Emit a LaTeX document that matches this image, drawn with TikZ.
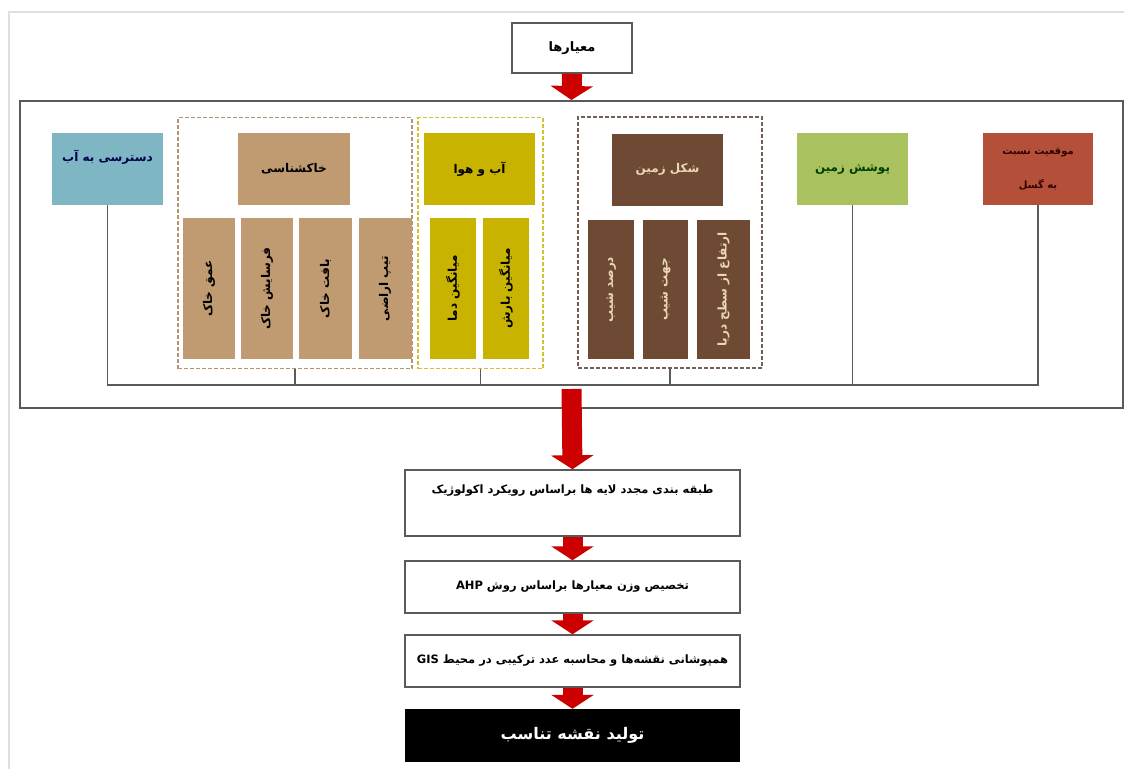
\documentclass[tikz,border=0pt]{standalone}
\usepackage{fontspec}
\usetikzlibrary{arrows.meta}
\TeXXeTstate=1
\newfontfamily\farsi[Script=Arabic]{DejaVu Sans}
\definecolor{framegray}{RGB}{90,90,90}
\definecolor{waterblue}{RGB}{127,182,196}
\definecolor{soiltan}{RGB}{192,154,112}
\definecolor{climyellow}{RGB}{200,180,0}
\definecolor{landbrown}{RGB}{110,74,53}
\definecolor{coverGreen}{RGB}{169,193,95}
\definecolor{faultred}{RGB}{180,80,58}
\definecolor{arrowred}{RGB}{204,0,0}
\definecolor{landtext}{RGB}{235,215,180}
\begin{document}
\begin{tikzpicture}[x=1pt, y=-1pt,
    every node/.style={font=\farsi\bfseries\fontsize{12}{14}\selectfont, inner sep=1pt, align=center},
    head/.style={minimum width=111pt, minimum height=72pt, anchor=center},
    leaf/.style={minimum width=141pt, minimum height=46pt, rotate=90},
    grp/.style={line width=1.2pt, dash pattern=on 4pt off 2pt},
    stepbox/.style={draw=framegray, line width=1.5pt, fill=white, minimum width=335pt, font=\farsi\bfseries\fontsize{11.5}{14}\selectfont},
    fat/.style={draw=arrowred, line width=20pt, -{Triangle[length=14pt, width=42pt]}}]
    \useasboundingbox (0,0) rectangle (1124,769);
    \draw[gray!25, line width=2pt] (9,769) -- (9,12) -- (1124,12);
    % outer frame and top box
    \node[draw=framegray, line width=2pt, minimum width=1103pt, minimum height=307pt] (frame) at (571.5,254.5) {};
    \node[draw=framegray, line width=1.5pt, fill=white, minimum width=120pt, minimum height=50pt, font=\farsi\bfseries\fontsize{13}{15}\selectfont] (crit) at (572,48) {\beginR معیارها\endR};
    % groups
    \node[grp, draw=soiltan!80!gray, minimum width=234pt, minimum height=251pt] (soilgrp) at (295,243) {};
    \node[grp, draw=climyellow!80, minimum width=125pt, minimum height=251pt] (climgrp) at (480.5,243) {};
    \node[grp, draw=landbrown!60!gray, line width=1.8pt, minimum width=184pt, minimum height=251pt] (landgrp) at (670,242.5) {};
    % single criteria
    \node[head, fill=waterblue, text=blue!30!black] (water) at (107.5,169) {\beginR دسترسی به آب\endR\\[12pt]};
    \node[head, fill=coverGreen, text=green!25!black] (cover) at (852.5,169) {\beginR پوشش زمین\endR};
    \node[head, fill=faultred, text=red!20!black, minimum width=110pt, font=\farsi\bfseries\fontsize{10}{12}\selectfont] (fault) at (1038,169) {\beginR موقعیت نسبت\endR\\[22pt]\beginR به گسل\endR};
    % soil
    \node[head, fill=soiltan, minimum width=112pt] (soil) at (294,169) {\beginR خاکشناسی\endR};
    \node[leaf, fill=soiltan, minimum height=52pt] (soil1) at (209,288.5) {\beginR عمق خاک\endR};
    \node[leaf, fill=soiltan, minimum height=52pt] (soil2) at (267,288.5) {\beginR فرسایش خاک\endR};
    \node[leaf, fill=soiltan, minimum height=53pt] (soil3) at (325.5,288.5) {\beginR بافت خاک\endR};
    \node[leaf, fill=soiltan, minimum height=53pt] (soil4) at (385,288.5) {\beginR تیپ اراضی\endR};
    % climate
    \node[head, fill=climyellow] (clim) at (479.5,169) {\beginR آب و هوا\endR};
    \node[leaf, fill=climyellow] (clim1) at (453,288.5) {\beginR میانگین دما\endR};
    \node[leaf, fill=climyellow] (clim2) at (506,288.5) {\beginR میانگین بارش\endR};
    % landform
    \node[head, fill=landbrown, text=landtext] (land) at (667.5,169.5) {\beginR شکل زمین\endR};
    \node[leaf, fill=landbrown, text=landtext, minimum width=139pt] (land1) at (611,289.5) {\beginR درصد شیب\endR};
    \node[leaf, fill=landbrown, text=landtext, minimum width=139pt, minimum height=45pt] (land2) at (665.5,289.5) {\beginR جهت شیب\endR};
    \node[leaf, fill=landbrown, text=landtext, minimum width=139pt, minimum height=53pt] (land3) at (723.5,289.5) {\beginR ارتفاع از سطح دریا\endR};
    % bus line
    \coordinate (bus) at (572,385);
    \draw[framegray, line width=1.8pt] (water.south) -- (water.south |- bus) -- (fault.south |- bus) -- (fault.south);
    \draw[framegray, line width=1.8pt] (cover.south) -- (cover.south |- bus);
    \draw[framegray, line width=1.2pt] (soilgrp.south) -- (soilgrp.south |- bus);
    \draw[framegray, line width=1.2pt] (climgrp.south) -- (climgrp.south |- bus);
    \draw[framegray, line width=1.2pt] (landgrp.south) -- (landgrp.south |- bus);
    % steps
    \node[stepbox, minimum height=66pt] (step1) at (572.5,503) {\beginR طبقه بندی مجدد لایه ها براساس رویکرد اکولوژیک\endR\\[14pt]};
    \node[stepbox, minimum height=52pt] (step2) at (572.5,587) {\beginR تخصیص وزن معیارها براساس روش \beginL AHP\endL\endR};
    \node[stepbox, minimum height=52pt] (step3) at (572.5,661) {\beginR همپوشانی نقشه‌ها و محاسبه عدد ترکیبی در محیط \beginL GIS\endL\endR};
    \node[fill=black, text=white, minimum width=335pt, minimum height=53pt, font=\farsi\bfseries\fontsize{16}{18}\selectfont] (step4) at (572.5,735.5) {\beginR تولید نقشه تناسب\endR};
    % arrows
    \draw[fat] (crit.south) -- (frame.north);
    \draw[fat] ([yshift=20pt]frame.south) -- (step1.north);
    \draw[fat] (step1.south) -- (step2.north);
    \draw[fat] (step2.south) -- (step3.north);
    \draw[fat] (step3.south) -- (step4.north);
\end{tikzpicture}
\end{document}
